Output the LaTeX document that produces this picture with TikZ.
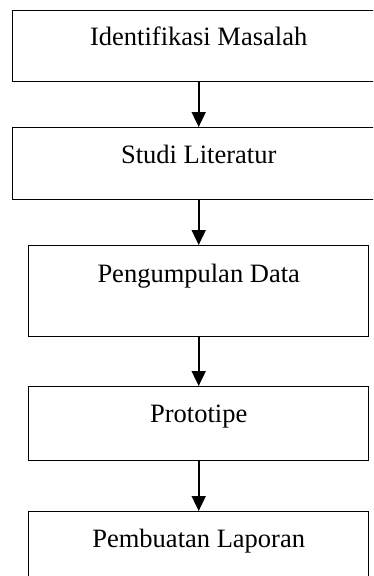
\documentclass[tikz,border=0pt]{standalone}
\usepackage{fontspec}
\setmainfont{Liberation Serif}
\usetikzlibrary{arrows.meta}

\begin{document}
\begin{tikzpicture}[x=1pt, y=-1pt,
    stepbox/.style={draw, line width=1.4pt, inner sep=0pt, anchor=north west,
      font=\fontsize{26.5}{30}\selectfont},
    flow/.style={line width=1.8pt, -{Triangle[width=14pt, length=15pt]}}]
    \useasboundingbox (0,0) rectangle (373,576);
    \clip (0,0) rectangle (373,576);

    \node[stepbox, minimum width=372pt, text height=35pt, text depth=36pt] (identifikasi) at (12,10) {Identifikasi Masalah};
    \node[stepbox, minimum width=372pt, text height=36pt, text depth=36pt] (literatur) at (12,127) {Studi Literatur};
    \node[stepbox, minimum width=340pt, text height=37pt, text depth=54pt] (pengumpulan) at (28,245) {Pengumpulan Data};
    \node[stepbox, minimum width=340pt, text height=36pt, text depth=38pt] (prototipe) at (28,386) {Prototipe};
    \node[stepbox, minimum width=340pt, text height=36pt, text depth=37pt] (laporan) at (28,511) {Pembuatan Laporan};

    \draw[flow] (identifikasi) -- (literatur);
    \draw[flow] (literatur) -- (pengumpulan);
    \draw[flow] (pengumpulan) -- (prototipe);
    \draw[flow] (prototipe) -- (laporan);
  \end{tikzpicture}
\end{document}
